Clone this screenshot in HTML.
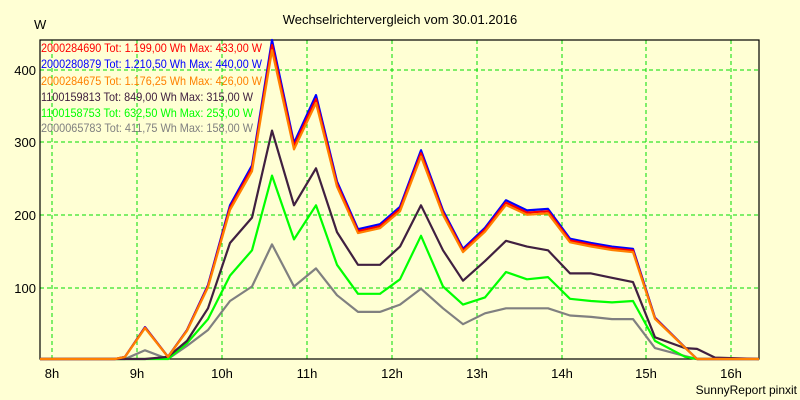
<!DOCTYPE html>
<html><head><meta charset="utf-8"><style>
body{margin:0;background:#ffffd4;}
svg{display:block;font-family:"Liberation Sans",sans-serif;}
</style></head><body>
<svg id="s" width="800" height="400" xmlns="http://www.w3.org/2000/svg">
<rect width="800" height="400" fill="#ffffd4"/>
<text x="400" y="24" font-size="13" text-anchor="middle">Wechselrichtervergleich vom 30.01.2016</text>
<text x="34" y="29" font-size="13">W</text>
<g stroke="#00dd00" stroke-dasharray="4,3" stroke-width="1">
<line x1="52" y1="40" x2="52" y2="359"/><line x1="137" y1="40" x2="137" y2="359"/><line x1="222" y1="40" x2="222" y2="359"/><line x1="307" y1="40" x2="307" y2="359"/><line x1="392" y1="40" x2="392" y2="359"/><line x1="477" y1="40" x2="477" y2="359"/><line x1="562" y1="40" x2="562" y2="359"/><line x1="646" y1="40" x2="646" y2="359"/><line x1="731" y1="40" x2="731" y2="359"/>
<line x1="40" y1="70" x2="759" y2="70"/><line x1="40" y1="142" x2="759" y2="142"/><line x1="40" y1="215" x2="759" y2="215"/><line x1="40" y1="288" x2="759" y2="288"/>
</g>
<rect x="40" y="40" width="719" height="319" fill="none" stroke="#000" stroke-width="1.2"/>
<g font-size="13" text-anchor="end"><text x="36" y="75">400</text><text x="36" y="147">300</text><text x="36" y="220">200</text><text x="36" y="293">100</text></g>
<g font-size="13" text-anchor="middle"><text x="52" y="378">8h</text><text x="137" y="378">9h</text><text x="222" y="378">10h</text><text x="307" y="378">11h</text><text x="392" y="378">12h</text><text x="477" y="378">13h</text><text x="562" y="378">14h</text><text x="646" y="378">15h</text><text x="731" y="378">16h</text></g>
<text x="797" y="394" font-size="12" text-anchor="end">SunnyReport pinxit</text>
<g font-size="12" lengthAdjust="spacingAndGlyphs">
<text x="41" y="52" fill="#ff0000" textLength="221" lengthAdjust="spacingAndGlyphs">2000284690 Tot: 1.199,00 Wh Max: 433,00 W</text>
<text x="41" y="68" fill="#0000ff" textLength="221" lengthAdjust="spacingAndGlyphs">2000280879 Tot: 1.210,50 Wh Max: 440,00 W</text>
<text x="41" y="85" fill="#ff8000" textLength="221" lengthAdjust="spacingAndGlyphs">2000284675 Tot: 1.176,25 Wh Max: 426,00 W</text>
<text x="41" y="101" fill="#402040" textLength="212" lengthAdjust="spacingAndGlyphs">1100159813 Tot: 849,00 Wh Max: 315,00 W</text>
<text x="41" y="117" fill="#00ff00" textLength="212" lengthAdjust="spacingAndGlyphs">1100158753 Tot: 632,50 Wh Max: 253,00 W</text>
<text x="41" y="132" fill="#808080" textLength="212" lengthAdjust="spacingAndGlyphs">2000065783 Tot: 411,75 Wh Max: 158,00 W</text>
</g>
<g id="lines" fill="none" stroke-width="2.2" stroke-linejoin="round"></g>
</svg>
<script>
var X=[40,115,125,145,168,187,208,230,252,272,294,316,337,358,380,400,421,443,463,485,506,527,548,570,591,612,633,655,685,697,715,759];
var B=[0,0,3,44,3,40,102,212,267,440,298,364,245,179,186,210,288,205,152,181,219,205,207,166,160,155,152,57,16,0,0,0];
var R=B.map(function(v,i){return i==9?433:v*0.985;});
var O=B.map(function(v,i){return i==9?426:(i>=29?0:v*0.97);});
var D=[0,0,0,0,3,25,70,160,195,315,212,263,175,130,130,155,212,150,108,135,163,155,150,118,118,112,106,30,15,14,2,0];
var G=[0,0,0,0,0,22,55,115,150,253,165,212,130,90,90,110,170,100,75,85,120,110,113,83,80,78,80,25,3,0,0,0];
var Y=[0,0,0,12,0,18,40,80,100,158,100,125,88,65,65,75,97,70,48,63,70,70,70,60,58,55,55,15,4,0,0,0];
function pl(v,c){var p=X.map(function(x,i){return x+","+(359-v[i]*0.725).toFixed(1)}).join(" ");
var e=document.createElementNS("http://www.w3.org/2000/svg","polyline");e.setAttribute("points",p);e.setAttribute("stroke",c);document.getElementById("lines").appendChild(e);}
pl(Y,"#808080");pl(G,"#00ff00");pl(D,"#402040");pl(B,"#0000ff");pl(R,"#ff0000");pl(O,"#ff8000");
</script>
</body></html>
